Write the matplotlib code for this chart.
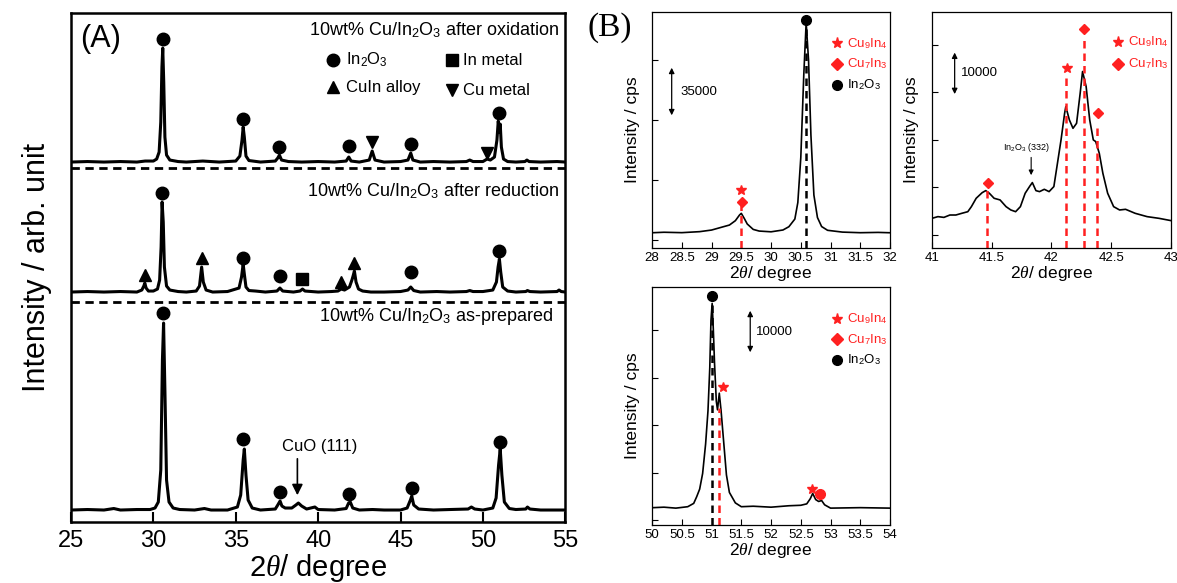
import matplotlib.pyplot as plt
import numpy as np

# ------------------------------
# Polices
# ------------------------------
plt.rcParams['font.family'] = ['Liberation Sans', 'DejaVu Sans']
plt.rcParams['mathtext.fontset'] = 'custom'
plt.rcParams['mathtext.rm'] = 'Liberation Sans'
plt.rcParams['mathtext.it'] = 'Liberation Serif:italic'

# ------------------------------
# (A) diffractogrammes larges (hauteur au-dessus de la ligne de base, u.a.)
# ------------------------------
ox_2theta = [25.0, 26.0, 27.0, 28.0, 29.0, 29.5, 30.0, 30.2, 30.35, 30.45, 30.52, 30.57, 30.63, 30.7,
             30.8, 31.0, 31.5, 32.0, 33.0, 34.0, 35.0, 35.25, 35.38, 35.45, 35.52, 35.62, 35.8, 36.5,
             37.4, 37.55, 37.65, 37.78, 38.2, 39.0, 40.0, 41.0, 41.7, 41.86, 42.0, 42.5, 43.1, 43.28,
             43.45, 44.0, 45.0, 45.45, 45.62, 45.75, 46.2, 47.0, 48.0, 49.0, 49.2, 49.4, 50.0, 50.25,
             50.45, 50.7, 50.85, 50.93, 51.0, 51.05, 51.12, 51.25, 51.5, 52.0, 52.55, 52.67, 52.8,
             53.5, 54.5, 55.0]
ox_int = [0, 0.5, 0, 0.5, 0, 1, 1, 3, 10, 40, 95, 114, 80, 25,
          7, 2, 0.5, 0, 1, 0, 1, 6, 22, 35, 25, 6, 1.5, 0,
          1, 4, 7, 2, 0.5, 0, 0.5, 0, 1, 5, 1, 0, 2, 11,
          2, 0, 0.5, 2, 9, 2, 0, 0.5, 0, 0.5, 2, 0.5, 0.5, 3,
          2, 5, 22, 41, 30, 38, 15, 3, 0.5, 0, 0.5, 2, 0.5,
          0, 0.5, 0]

red_2theta = [25.0, 26.0, 27.0, 28.0, 29.0, 29.3, 29.42, 29.48, 29.56, 29.7, 30.0, 30.25, 30.38, 30.47,
              30.53, 30.6, 30.67, 30.8, 31.0, 31.5, 32.0, 32.6, 32.8, 32.93, 33.03, 33.2, 33.6, 34.5,
              35.2, 35.35, 35.45, 35.52, 35.62, 35.8, 36.2, 36.8, 37.5, 37.68, 37.85, 38.5, 38.9, 39.05,
              39.2, 40.0, 40.8, 41.2, 41.4, 41.6, 41.9, 42.05, 42.12, 42.2, 42.3, 42.45, 42.7, 43.2,
              44.0, 45.0, 45.45, 45.62, 45.8, 46.2, 47.2, 48.0, 49.0, 49.2, 49.4, 50.0, 50.6, 50.82,
              50.92, 51.0, 51.08, 51.2, 51.5, 52.0, 52.6, 52.7, 52.85, 53.5, 54.5, 54.62, 54.75, 55.0]
red_int = [0, 0.5, 0, 0.5, 0, 2, 6, 9, 4, 1, 1, 3, 12, 45,
           90, 70, 25, 6, 2, 0.5, 0, 1, 6, 25, 10, 2, 0, 0.5,
           4, 15, 28, 18, 5, 1.5, 1, 0, 1, 4, 1, 0, 1, 3,
           1, 0, 0.5, 1, 3, 2, 5, 12, 16, 21, 10, 3, 1, 0,
           0, 0.5, 2, 5, 1.5, 0, 0.5, 0, 0.5, 1.5, 0.5, 0.5, 2, 10,
           25, 33, 20, 5, 1, 0, 0.5, 1.5, 0.5, 0, 0.5, 2, 0.5, 0]

prep_2theta = [25.0, 26.0, 27.0, 27.6, 28.0, 29.0, 29.8, 30.1, 30.3, 30.45, 30.55, 30.62, 30.7, 30.8,
               30.95, 31.2, 31.6, 32.5, 33.1, 33.5, 34.5, 35.1, 35.3, 35.45, 35.52, 35.62, 35.75, 36.0,
               36.5, 37.4, 37.55, 37.69, 37.8, 38.0, 38.4, 38.65, 38.8, 39.0, 39.3, 39.8, 40.0, 41.0,
               41.7, 41.85, 41.95, 42.1, 42.5, 43.3, 44.0, 45.0, 45.4, 45.6, 45.68, 45.8, 46.1, 47.0,
               48.0, 49.1, 49.3, 49.5, 50.0, 50.6, 50.8, 50.95, 51.05, 51.15, 51.3, 51.6, 52.0, 52.6,
               52.7, 52.85, 53.5, 55.0]
prep_int = [0, 0.5, 0, 1.5, 0, 0.5, 0.5, 2, 8, 40, 150, 187, 120, 30,
            8, 2, 0.5, 0, 1.5, 0, 0, 3, 15, 50, 61, 35, 10, 2,
            0, 1, 5, 9, 4, 2, 2, 5, 7, 4, 1, 3, 0.5, 0,
            1.5, 7, 8, 2, 0, 0.5, 0, 0, 2, 10, 14, 5, 1, 0,
            0.5, 1, 3, 1, 0, 2, 12, 45, 61, 35, 8, 1.5, 0.5, 1,
            3, 1, 0, 0]

# Marqueurs de phase (2theta, hauteur du marqueur au-dessus de la base)
ox_in2o3 = [(30.57, 123), (35.45, 43), (37.65, 15), (41.86, 16), (45.62, 18), (51.0, 49)]
ox_cu = [(43.28, 20), (50.24, 9)]
red_in2o3 = [(30.55, 99), (35.45, 34), (37.68, 16), (45.62, 20), (51.0, 41)]
red_cuin = [(29.47, 17), (32.93, 34), (41.4, 10), (42.2, 29)]
red_inmetal = [(39.05, 13)]
prep_in2o3 = [(30.6, 197), (35.46, 71), (37.69, 18), (41.88, 16), (45.68, 22), (51.05, 68)]

# ------------------------------
# (B) zooms, intensité en cps
# ------------------------------
b1_2theta = [28.0, 28.2, 28.5, 28.8, 29.0, 29.2, 29.3, 29.4, 29.47, 29.5, 29.55, 29.6, 29.7, 29.8,
             30.0, 30.2, 30.3, 30.4, 30.45, 30.5, 30.55, 30.59, 30.63, 30.67, 30.72, 30.78, 30.85,
             30.95, 31.2, 31.5, 31.8, 32.0]
b1_cps = [4870, 5200, 4930, 5600, 6670, 8900, 10000, 12900, 16700, 17800, 14400, 10700, 7100, 6000,
          5500, 6700, 8900, 14000, 25000, 55000, 110000, 145000, 120000, 70000, 30000, 15000, 9000,
          6500, 5300, 4900, 5100, 4870]

b2_2theta = [41.0, 41.05, 41.1, 41.15, 41.2, 41.25, 41.3, 41.33, 41.37, 41.42, 41.45, 41.48, 41.52,
             41.57, 41.62, 41.66, 41.7, 41.74, 41.78, 41.82, 41.84, 41.87, 41.9, 41.94, 41.98, 42.02,
             42.05, 42.08, 42.11, 42.12, 42.15, 42.18, 42.21, 42.24, 42.26, 42.29, 42.32, 42.35,
             42.37, 42.4, 42.43, 42.47, 42.52, 42.57, 42.62, 42.7, 42.8, 42.9, 43.0]
b2_cps = [13500, 13860, 13700, 14200, 14200, 14560, 14900, 15960, 17720, 18900, 19330, 18780, 17720,
          17370, 15960, 15260, 14900, 15960, 18780, 20320, 21020, 19330, 19120, 19610, 19120, 20180,
          25080, 30000, 35600, 37000, 34190, 32440, 33490, 39800, 44380, 41220, 34190, 30000,
          29650, 27190, 22980, 18780, 15960, 15260, 15400, 14560, 13860, 13500, 13020]

b3_2theta = [50.0, 50.2, 50.4, 50.6, 50.7, 50.75, 50.8, 50.85, 50.9, 50.94, 50.97, 50.99, 51.01, 51.03,
             51.05, 51.08, 51.1, 51.13, 51.16, 51.2, 51.25, 51.3, 51.4, 51.5, 51.7, 52.0, 52.3, 52.5,
             52.6, 52.66, 52.7, 52.75, 52.8, 52.85, 52.9, 53.0, 53.5, 54.0]
b3_cps = [12590, 12700, 12500, 12800, 13500, 14900, 16500, 19800, 26000, 33000, 42000, 52000, 55600,
          50000, 43000, 35000, 33200, 36700, 33000, 27000, 19500, 15800, 13600, 12800, 12900, 12700,
          13000, 13100, 13400, 14500, 15600, 14300, 13900, 14100, 13200, 12500, 12600, 12500]

RED = '#ff2020'
DASH = (0, (3, 2))

fig = plt.figure(figsize=(11.77, 5.83), dpi=100)

# ------------------------------
# Panneau (A)
# ------------------------------
axA = fig.add_axes([0.0603, 0.1046, 0.4200, 0.8730])
base_prep, base_red, base_ox = 12, 230, 360

for xs, ys, base in [(ox_2theta, ox_int, base_ox), (red_2theta, red_int, base_red),
                     (prep_2theta, prep_int, base_prep)]:
    axA.plot(xs, np.array(ys) + base, color='k', lw=2.2)

axA.axhline(354, color='k', lw=2, ls=DASH)
axA.axhline(220, color='k', lw=2, ls=DASH)

mk = dict(color='k', ls='none', ms=9)
for pts, base, m in [(ox_in2o3, base_ox, 'o'), (ox_cu, base_ox, 'v'),
                     (red_in2o3, base_red, 'o'), (red_cuin, base_red, '^'),
                     (red_inmetal, base_red, 's'), (prep_in2o3, base_prep, 'o')]:
    px, py = zip(*pts)
    axA.plot(px, np.array(py) + base, marker=m, **mk)

# Légende manuelle
axA.plot([40.9], [462], marker='o', **mk)
axA.text(41.7, 462, r'In$_2$O$_3$', fontsize=12, va='center')
axA.plot([48.1], [462], marker='s', ms=8, color='k', ls='none')
axA.text(48.8, 462, 'In metal', fontsize=12, va='center')
axA.plot([40.9], [435], marker='^', **mk)
axA.text(41.7, 435, 'CuIn alloy', fontsize=12, va='center')
axA.plot([48.1], [432], marker='v', **mk)
axA.text(48.8, 432, 'Cu metal', fontsize=12, va='center')

axA.text(54.6, 492, r'10wt% Cu/In$_2$O$_3$ after oxidation', fontsize=13, ha='right', va='center')
axA.text(54.6, 331, r'10wt% Cu/In$_2$O$_3$ after reduction', fontsize=13, ha='right', va='center')
axA.text(54.25, 206, r'10wt% Cu/In$_2$O$_3$ as-prepared', fontsize=13, ha='right', va='center')
axA.annotate('', xy=(38.74, 24), xytext=(38.74, 66),
             arrowprops=dict(arrowstyle='-|>', color='k', lw=1.2, mutation_scale=16))
axA.text(40.1, 76, 'CuO (111)', fontsize=12, ha='center', va='center')
axA.text(0.018, 0.978, '(A)', transform=axA.transAxes, fontsize=22, va='top')

axA.set_xlim(25, 55)
axA.set_ylim(0, 509)
axA.set_xticks([25, 30, 35, 40, 45, 50, 55])
axA.set_yticks([])
axA.tick_params(axis='x', direction='in', length=7, width=1.5, labelsize=17, pad=6)
for s in axA.spines.values():
    s.set_linewidth(1.8)
axA.set_xlabel(r'2$\theta$/ degree', fontsize=21, labelpad=0)
axA.set_ylabel('Intensity / arb. unit', fontsize=22, labelpad=14)


# ------------------------------
# Panneaux (B)
# ------------------------------
def setup_b(ax, xlim, ylim, xticks, yticks, xticklabels):
    ax.set_xlim(*xlim)
    ax.set_ylim(*ylim)
    ax.set_xticks(xticks)
    ax.set_xticklabels(xticklabels)
    ax.set_yticks(yticks)
    ax.set_yticklabels([])
    ax.tick_params(direction='in', length=4, width=0.8, labelsize=9.5, pad=3)
    for s in ax.spines.values():
        s.set_linewidth(0.9)
    ax.set_xlabel(r'2$\theta$/ degree', fontsize=12.5, labelpad=0)
    ax.set_ylabel('Intensity / cps', fontsize=12.5, labelpad=6)


def legend_b(ax, with_circle=True, y0=0.868, dy=0.088):
    ax.plot([0.777], [y0], marker='*', ms=8, color=RED, transform=ax.transAxes)
    ax.text(0.82, y0, r'Cu$_9$In$_4$', color=RED, fontsize=9.5, va='center', transform=ax.transAxes)
    ax.plot([0.777], [y0 - dy], marker='D', ms=6, color=RED, transform=ax.transAxes)
    ax.text(0.82, y0 - dy, r'Cu$_7$In$_3$', color=RED, fontsize=9.5, va='center', transform=ax.transAxes)
    if with_circle:
        ax.plot([0.777], [y0 - 2 * dy], marker='o', ms=7, color='k', transform=ax.transAxes)
        ax.text(0.82, y0 - 2 * dy, r'In$_2$O$_3$', color='k', fontsize=9.5, va='center',
                transform=ax.transAxes)


def scale_arrow(ax, x, y0, y1, label, xt):
    ax.annotate('', xy=(x, y0), xytext=(x, y1),
                arrowprops=dict(arrowstyle='<|-|>', color='k', lw=0.9, mutation_scale=8))
    ax.text(xt, (y0 + y1) / 2, label, fontsize=9.5, va='center')


# B haut gauche
ax1 = fig.add_axes([0.554, 0.5746, 0.2022, 0.4048])
ax1.plot(b1_2theta, b1_cps, color='k', lw=1.2)
yb1 = (-5300, 152000)
ax1.vlines(30.59, yb1[0], 141000, color='k', lw=1.8, linestyles=[DASH])
ax1.vlines(29.5, yb1[0], 23300, color=RED, lw=1.8, linestyles=[DASH])
ax1.plot([30.59], [146700], 'o', color='k', ms=7)
ax1.plot([29.5], [33300], '*', color=RED, ms=7)
ax1.plot([29.52], [25300], 'D', color=RED, ms=5.5)
scale_arrow(ax1, 28.33, 116700, 81300, '35000', 28.47)
legend_b(ax1)
setup_b(ax1, (28, 32), yb1, np.arange(28, 32.01, 0.5), [0, 40000, 80000, 120000],
        ['28', '28.5', '29', '29.5', '30', '30.5', '31', '31.5', '32'])
ax1.text(-0.27, 1.0, '(B)', transform=ax1.transAxes, fontsize=24, va='top',
         family='Liberation Serif')

# B haut droite
ax2 = fig.add_axes([0.7918, 0.5746, 0.2031, 0.4048])
ax2.plot(b2_2theta, b2_cps, color='k', lw=1.2)
yb2 = (7260, 56900)
for xv, ytop in [(41.46, 19470), (42.12, 43680), (42.27, 51050), (42.38, 33580)]:
    ax2.vlines(xv, yb2[0], ytop, color=RED, lw=1.8, linestyles=[DASH])
ax2.plot([41.47, 42.27, 42.39], [20950, 53370, 35680], 'D', color=RED, ms=5.5, ls='none')
ax2.plot([42.13], [45160], '*', color=RED, ms=7)
scale_arrow(ax2, 41.19, 48950, 39050, '10000', 41.24)
ax2.annotate('', xy=(41.83, 22000), xytext=(41.83, 26900),
             arrowprops=dict(arrowstyle='-|>', color='k', lw=0.8, mutation_scale=7))
ax2.text(41.79, 28400, r'In$_2$O$_3$ (332)', fontsize=6.5, ha='center', va='center')
legend_b(ax2, with_circle=False, y0=0.873, dy=0.093)
setup_b(ax2, (41, 43), yb2, [41, 41.5, 42, 42.5, 43], [10000, 20000, 30000, 40000, 50000],
        ['41', '41.5', '42', '42.5', '43'])

# B bas
ax3 = fig.add_axes([0.554, 0.0995, 0.2022, 0.4082])
ax3.plot(b3_2theta, b3_cps, color='k', lw=1.2)
yb3 = (8950, 59050)
ax3.vlines(51.01, yb3[0], 56300, color='k', lw=1.8, linestyles=[DASH])
ax3.vlines(51.13, yb3[0], 33580, color=RED, lw=1.8, linestyles=[DASH])
ax3.plot([51.01], [57210], 'o', color='k', ms=7)
ax3.plot([51.19, 52.69], [38060, 16530], '*', color=RED, ms=7, ls='none')
ax3.plot([52.83], [15470], 'o', color=RED, ms=7)
scale_arrow(ax3, 51.65, 54630, 44730, '10000', 51.75)
legend_b(ax3, y0=0.866, dy=0.086)
setup_b(ax3, (50, 54), yb3, np.arange(50, 54.01, 0.5), [10000, 20000, 30000, 40000, 50000],
        ['50', '50.5', '51', '51.5', '52', '52.5', '53', '53.5', '54'])

fig.savefig('out.png', dpi=100)
